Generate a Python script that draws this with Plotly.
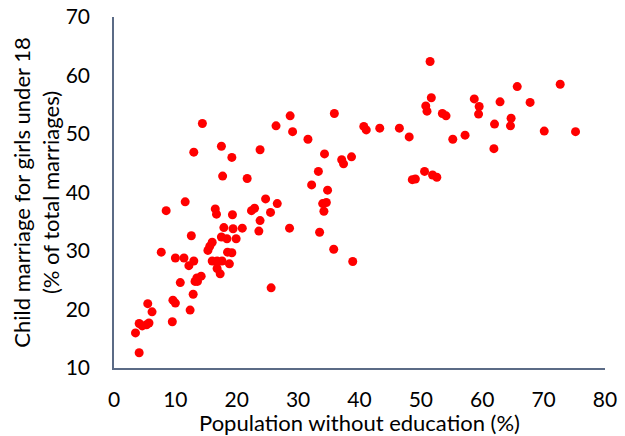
import plotly.graph_objects as go

edu_pct = [3.5, 4.1, 4.1, 4.6, 5.3, 5.7, 5.5, 6.2, 7.7, 8.5,
           9.5, 9.6, 10.0, 10.0, 10.8, 11.4, 11.6, 12.2, 12.4, 12.6,
           12.9, 13.0, 13.0, 13.2, 13.5, 13.6, 14.2, 14.4, 15.3, 15.6,
           16.0, 16.0, 16.5, 16.7, 16.8, 16.8, 17.3, 17.5, 17.6, 17.5,
           17.7, 17.9, 18.4, 18.5, 18.8, 19.2, 19.3, 19.2, 19.4, 19.9,
           20.9, 21.7, 22.4, 22.9, 23.6, 23.8, 23.8, 24.7, 25.5, 25.6,
           26.4, 26.6, 28.6, 28.7, 29.1, 31.6, 32.2, 33.3, 33.5, 34.0,
           34.2, 34.3, 34.6, 34.8, 35.9, 35.8, 37.1, 37.4, 38.7, 38.9,
           40.7, 41.1, 43.3, 46.5, 48.1, 48.6, 49.1, 50.6, 50.8, 51.0,
           51.5, 51.7, 51.9, 52.6, 53.5, 54.1, 55.2, 57.2, 58.7, 59.5,
           59.4, 61.9, 62.0, 62.9, 64.7, 64.6, 65.7, 67.8, 70.1, 72.7,
           75.2]
child_marriage_pct = [16.0, 17.6, 12.6, 17.2, 17.4, 17.7, 21.0, 19.6, 29.8, 36.9,
                      17.9, 21.6, 21.1, 28.8, 24.6, 28.8, 38.4, 27.5, 19.9, 32.6,
                      22.6, 46.9, 28.3, 24.8, 25.4, 24.8, 25.7, 51.8, 30.1, 30.8,
                      31.5, 28.3, 37.2, 36.3, 28.3, 27.0, 26.1, 32.4, 28.3, 47.9,
                      42.8, 34.0, 32.1, 29.8, 27.8, 46.0, 36.2, 29.7, 33.8, 32.1,
                      33.9, 42.4, 36.9, 37.3, 33.4, 35.2, 47.3, 38.9, 36.6, 23.7,
                      51.4, 38.1, 33.9, 53.1, 50.4, 49.1, 41.3, 43.6, 33.2, 38.1,
                      36.8, 46.6, 38.3, 40.4, 53.5, 30.3, 45.6, 44.9, 46.1, 28.2,
                      51.3, 50.7, 51.0, 51.0, 49.5, 42.2, 42.3, 43.6, 54.8, 53.9,
                      62.4, 56.2, 43.0, 42.6, 53.5, 53.1, 49.1, 49.8, 56.0, 54.7,
                      53.4, 47.5, 51.7, 55.5, 52.7, 51.4, 58.1, 55.4, 50.5, 58.5,
                      50.4]

x_ticks = [0, 10, 20, 30, 40, 50, 60, 70, 80]
y_ticks = [10, 20, 30, 40, 50, 60, 70]

font_family = "Lato, 'Open Sans', sans-serif"
axis_color = "#5B6B86"

fig = go.Figure(go.Scatter(
    x=edu_pct, y=child_marriage_pct, mode="markers",
    marker=dict(color="#FF0000", size=9, line=dict(width=0)),
    showlegend=False,
))

fig.update_layout(
    width=625, height=436,
    margin=dict(l=114, r=20, t=17, b=68),
    plot_bgcolor="white", paper_bgcolor="white",
    font=dict(family=font_family, size=20, color="#000000"),
)
fig.update_xaxes(
    range=[0, 80], tickvals=x_ticks, showgrid=False, zeroline=False,
    showline=True, linecolor=axis_color, linewidth=1.5, automargin=False,
    ticks="outside", ticklen=12, tickcolor="rgba(0,0,0,0)",
    tickfont=dict(size=21), ticklabeloverflow="allow",
    title=dict(text="Population without education (%)", font=dict(size=22), standoff=0),
)
fig.update_yaxes(
    range=[10, 70], tickvals=y_ticks, showgrid=False, zeroline=False,
    showline=True, linecolor=axis_color, linewidth=1.5, automargin=False,
    ticks="outside", ticklen=18, tickcolor="rgba(0,0,0,0)",
    tickfont=dict(size=21), ticklabeloverflow="allow",
    title=dict(text="Child marriage for girls under 18<br>(% of total marriages)",
               font=dict(size=22), standoff=0),
)

# remove the browser's default 8px body margin so the figure fills the window
fig.write_html("out.html", config={"displayModeBar": False},
               post_script="document.body.style.margin='0';")
